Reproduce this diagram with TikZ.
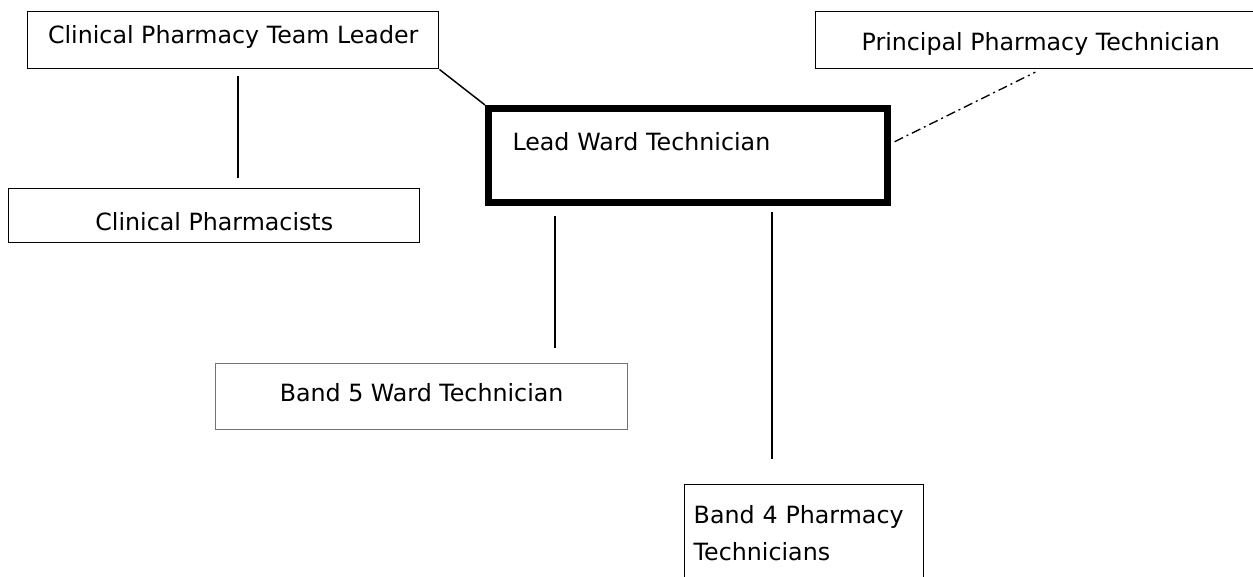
\documentclass[tikz,border=0pt]{standalone}
\usepackage{fontspec}
\setmainfont{DejaVu Sans}
\usetikzlibrary{positioning, arrows.meta}

\tikzset{
    box/.style={draw, line width=1.1pt, rectangle, inner xsep=0pt, inner ysep=0pt,
        anchor=north west, align=center},
    link/.style={line width=1.1pt},
}

\begin{document}
\begin{tikzpicture}[x=0.75pt, y=-0.75pt, font=\fontsize{17.8pt}{27.75pt}\selectfont]
    \useasboundingbox (0,0) rectangle (1253,576);

    % Caselle in alto
    \node[box, minimum width=308.25pt, text height=24pt, text depth=18.75pt]
        (leader) at (27,11) {Clinical Pharmacy Team Leader};
    \node[box, minimum width=337.5pt, text height=29.25pt, text depth=13.5pt]
        (principal) at (815,11) {Principal Pharmacy Technician};
    \node[box, minimum width=308.25pt, text height=31.5pt, text depth=9pt]
        (pharm) at (8,188) {Clinical Pharmacists};

    % Casella centrale (bordo spesso)
    \node[box, line width=5.25pt, align=left, inner xsep=18pt, text width=263.25pt,
        text height=31.5pt, text depth=39pt]
        (ward) at (485,105) {Lead Ward Technician};

    % Caselle in basso
    \node[box, draw=black!55, line width=0.9pt, minimum width=309pt,
        text height=28.5pt, text depth=21pt]
        (band5) at (215,363) {Band 5 Ward Technician};
    \node[box, align=left, inner xsep=6.75pt, text width=165.75pt,
        text height=29.25pt, text depth=68.25pt]
        (band4) at (684,484) {Band 4 Pharmacy\\Technicians};

    % Collegamenti
    \draw[link, shorten <=5.25pt, shorten >=7.5pt]
        ([xshift=3.4pt]leader.south) -- ([xshift=3.4pt]leader.south |- pharm.north);
    \draw[link] (leader.south east) -- (ward.north west);
    \draw[link, shorten <=7.5pt, shorten >=11.25pt]
        ([xshift=52.5pt]ward.south west) -- ([xshift=52.5pt]ward.south west |- band5.north);
    \draw[link, shorten <=4.5pt, shorten >=18.75pt]
        ([xshift=215.25pt]ward.south west) -- ([xshift=215.25pt]ward.south west |- band4.north);
    \draw[link, line width=1pt, dash pattern=on 7pt off 3pt on 1.5pt off 3pt,
        shorten <=3pt, shorten >=4.5pt]
        ([yshift=9pt]ward.east) -- (principal.south);

\end{tikzpicture}
\end{document}
